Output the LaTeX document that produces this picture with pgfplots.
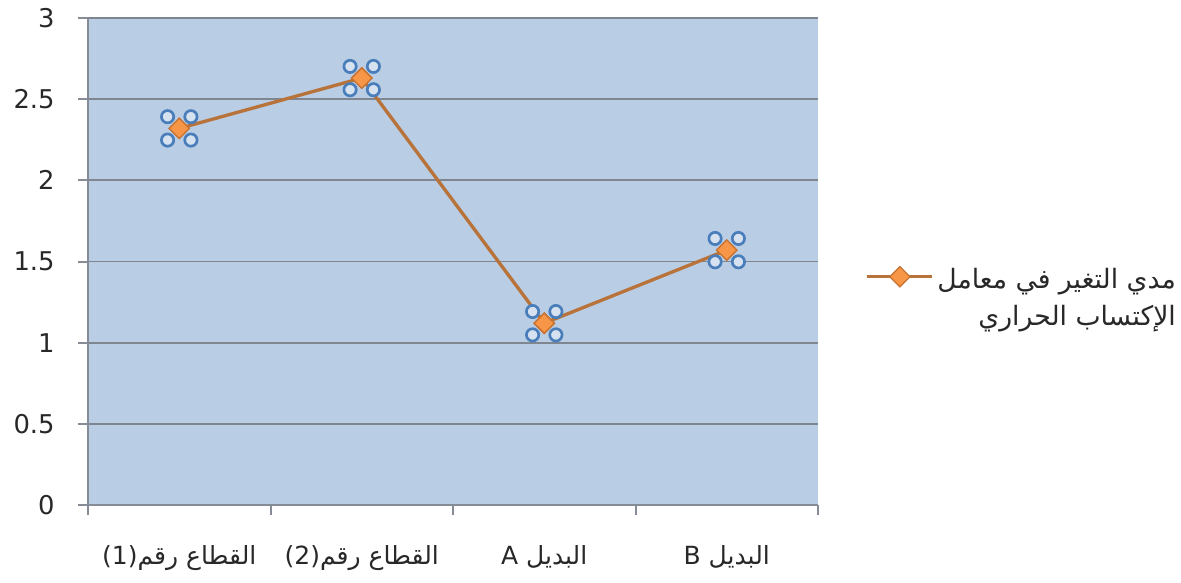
\documentclass[border=0pt]{standalone}
\usepackage{pgfplots}
\pgfplotsset{compat=1.18}
\usepackage{fontspec}
\setmainfont{DejaVu Sans}
\newfontfamily\arabicfont[Script=Arabic]{DejaVu Sans}
\TeXXeTstate=1
\definecolor{bgblue}{RGB}{185,205,229}
\definecolor{gridc}{RGB}{128,134,144}
\definecolor{axc}{RGB}{134,140,150}
\definecolor{linec}{RGB}{184,115,58}
\definecolor{mfill}{RGB}{247,150,70}
\definecolor{medge}{RGB}{200,115,50}
\definecolor{hblue}{RGB}{74,126,187}
\definecolor{hfill}{RGB}{214,226,240}
\begin{document}
\begin{tikzpicture}
\path[use as bounding box] (-52.8pt,-46.2pt) rectangle (655.8pt,303pt);
\begin{axis}[
  scale only axis,
  width=438pt, height=292.2pt,
  xmin=0, xmax=4, ymin=0, ymax=3,
  axis lines*=left,
  axis line style={-, draw=axc, line width=1.2pt},
  axis background/.style={fill=bgblue},
  ytick={0,0.5,1,1.5,2,2.5,3},
  yticklabels={0,0.5,1,1.5,2,2.5,3},
  xtick={0,1,2,3,4},
  xticklabels={},
  tick align=outside,
  major tick length=6pt,
  tick style={draw=axc, line width=1.2pt},
  ymajorgrids,
  grid style={draw=gridc, line width=1.1pt},
  extra x ticks={0.5,1.5,2.5,3.5},
  extra x tick labels={
    {\arabicfont\beginR القطاع رقم\beginL(1)\endL\endR},
    {\arabicfont\beginR القطاع رقم\beginL(2)\endL\endR},
    {\arabicfont\beginR البديل A\endR},
    {\arabicfont\beginR البديل B\endR}},
  extra x tick style={major tick length=0pt, grid=none},
  yticklabel style={font=\fontsize{15.5}{17}\selectfont, text={rgb,255:red,40;green,40;blue,40}, xshift=-10.5pt},
  xticklabel style={font=\fontsize{15}{17}\selectfont, text={rgb,255:red,40;green,40;blue,40}, yshift=-21pt},
  /pgf/number format/assume math mode=true,
  legend style={at={(1.058,0.512)}, anchor=north west, draw=none, fill=none,
    font=\fontsize{16}{22}\selectfont, text={rgb,255:red,40;green,40;blue,40}, legend cell align=right},
  legend image code/.code={\draw[mark repeat=2, mark phase=2, #1] plot coordinates {(0pt,0pt) (19.5pt,0pt) (39pt,0pt)};},
]
\addplot[color=linec, line width=2pt, mark=square*, mark size=4.3pt,
  mark options={rotate=45, fill=mfill, draw=medge, line width=0.8pt}]
  coordinates {(0.5,2.32) (1.5,2.63) (2.5,1.12) (3.5,1.57)};
\addlegendentry{\arabicfont\begin{tabular}[t]{@{}r@{}}\beginR مدي التغير في معامل\endR\\\beginR الإكتساب الحراري\endR\end{tabular}}
\addplot[forget plot, only marks, mark=*, mark size=3.7pt,
  mark options={draw=hblue, fill=hfill, line width=1.6pt, xshift=-7pt, yshift=7pt}]
  coordinates {(0.5,2.32) (1.5,2.63) (2.5,1.12) (3.5,1.57)};
\addplot[forget plot, only marks, mark=*, mark size=3.7pt,
  mark options={draw=hblue, fill=hfill, line width=1.6pt, xshift=7pt, yshift=7pt}]
  coordinates {(0.5,2.32) (1.5,2.63) (2.5,1.12) (3.5,1.57)};
\addplot[forget plot, only marks, mark=*, mark size=3.7pt,
  mark options={draw=hblue, fill=hfill, line width=1.6pt, xshift=-7pt, yshift=-7pt}]
  coordinates {(0.5,2.32) (1.5,2.63) (2.5,1.12) (3.5,1.57)};
\addplot[forget plot, only marks, mark=*, mark size=3.7pt,
  mark options={draw=hblue, fill=hfill, line width=1.6pt, xshift=7pt, yshift=-7pt}]
  coordinates {(0.5,2.32) (1.5,2.63) (2.5,1.12) (3.5,1.57)};
\addplot[forget plot, only marks, mark=square*, mark size=4.3pt,
  mark options={rotate=45, fill=mfill, draw=medge, line width=0.8pt}]
  coordinates {(0.5,2.32) (1.5,2.63) (2.5,1.12) (3.5,1.57)};
\end{axis}
\end{tikzpicture}
\end{document}
